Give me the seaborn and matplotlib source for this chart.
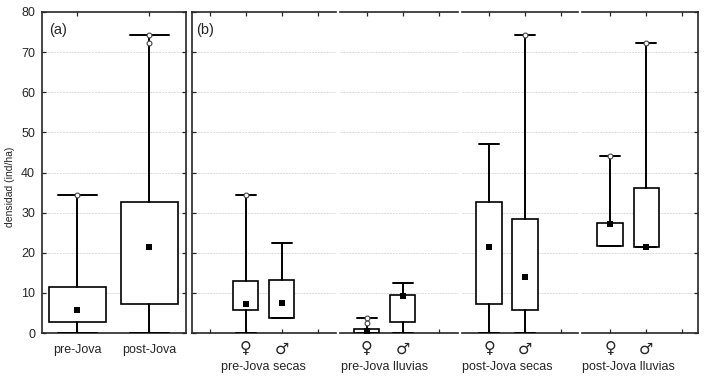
import numpy as np
import matplotlib
matplotlib.use("Agg")
import matplotlib.pyplot as plt
import matplotlib.transforms as mtransforms
import pandas as pd
import seaborn as sns

# --- data (densidad, ind/ha) ---
groups_a = ['pre-Jova', 'post-Jova']
a_min = [0.0, 0.0]
a_q1 = [2.8, 7.2]
a_med = [5.8, 21.5]
a_q3 = [11.4, 32.6]
a_max = [34.4, 74.2]
a_out = [[34.4], [74.2, 72.3]]

seasons = ['pre-Jova secas', 'pre-Jova lluvias', 'post-Jova secas', 'post-Jova lluvias']
sexes = ['\u2640', '\u2642']
b_min = [[0.0, 3.65], [0.0, 0.0], [0.0, 0.0], [21.8, 21.5]]
b_q1 = [[5.65, 3.65], [0.0, 2.8], [7.2, 5.65], [21.8, 21.5]]
b_med = [[7.15, 7.4], [0.5, 9.3], [21.5, 14.0], [27.2, 21.5]]
b_q3 = [[12.9, 13.2], [0.9, 9.5], [32.6, 28.5], [27.3, 36.2]]
b_max = [[34.5, 22.5], [3.8, 12.5], [47.0, 74.3], [44.1, 72.2]]
b_out = [[[34.5], []], [[3.8, 2.6], []], [[], [74.3]], [[44.1], [72.2]]]

sns.set_style("ticks")
plt.rcParams['font.family'] = ['Liberation Sans', 'DejaVu Sans']
plt.rcParams['font.size'] = 9

W, H = 707, 382
fig = plt.figure(figsize=(W / 100, H / 100), dpi=100)

y_bot, y_top = 333, 12


def add_ax(x0, x1):
    return fig.add_axes([x0 / W, (H - y_bot) / H, (x1 - x0) / W, (y_bot - y_top) / H])


line_kw = dict(color='black', linewidth=1.4)


def draw_boxes(ax, mins, q1s, meds, q3s, maxs, outs, width, capw):
    stats = []
    for i in range(len(mins)):
        stats.append(dict(whislo=mins[i], q1=q1s[i], med=meds[i], q3=q3s[i],
                          whishi=maxs[i], fliers=[]))
    ax.bxp(stats, positions=list(range(len(mins))), widths=width, capwidths=capw,
           showfliers=False, patch_artist=True,
           boxprops=dict(facecolor='white', edgecolor='black', linewidth=1.2),
           whiskerprops=line_kw, capprops=line_kw,
           medianprops=dict(linewidth=0), manage_ticks=False, zorder=3)
    med_df = pd.DataFrame({'x': list(range(len(meds))), 'y': meds})
    sns.scatterplot(data=med_df, x='x', y='y', marker='s', s=18, color='black',
                    edgecolor='black', linewidth=0, ax=ax, zorder=5)
    ox, oy = [], []
    for i, vals in enumerate(outs):
        for v in vals:
            ox.append(i)
            oy.append(v)
    if ox:
        out_df = pd.DataFrame({'x': ox, 'y': oy})
        sns.scatterplot(data=out_df, x='x', y='y', marker='o', s=12, color='white',
                        edgecolor='#444444', linewidth=0.8, ax=ax, zorder=6)
    ax.set_xlabel('')
    ax.set_ylabel('')


def style_ax(ax, left, right):
    ax.set_ylim(0, 80)
    ax.set_yticks(range(0, 81, 10))
    for yv in range(10, 80, 10):
        ax.axhline(yv, color='#dadada', linewidth=0.7, linestyle=(0, (2, 1)), zorder=0)
    for s in ['top', 'bottom']:
        ax.spines[s].set_linewidth(1.2)
    ax.spines['left'].set_visible(left)
    ax.spines['right'].set_visible(right)
    ax.spines['left'].set_linewidth(1.2)
    ax.spines['right'].set_linewidth(1.2)
    ax.tick_params(axis='both', direction='in', length=3, width=0.9,
                   top=True, bottom=True, left=left, right=right,
                   labelleft=False, labelright=False, labelsize=9, pad=8)


# panel (a)
ax_a = add_ax(42, 186)
draw_boxes(ax_a, a_min, a_q1, a_med, a_q3, a_max, a_out, 0.79, 0.54)
style_ax(ax_a, True, True)
ax_a.set_xlim(-0.49, 1.51)
ax_a.set_xticks([0, 1])
ax_a.set_xticklabels(groups_a)
ax_a.tick_params(axis='y', labelleft=True, labelsize=9, pad=5)
ax_a.set_ylabel('densidad (ind/ha)', fontsize=7.5)
ax_a.yaxis.set_label_coords(15 / W, (H - 187) / H, transform=fig.transFigure)
ax_a.text(0.05, 0.965, '(a)', transform=ax_a.transAxes, fontsize=10.5, va='top', ha='left')

# panel (b)
sub_px = [(192, 336), (340, 458), (462, 578), (582, 698)]
sub_xlim = [(-1.49, 2.51), (-0.74, 2.54), (-0.75, 2.47), (-0.78, 2.44)]
for k, season in enumerate(seasons):
    ax = add_ax(*sub_px[k])
    draw_boxes(ax, b_min[k], b_q1[k], b_med[k], b_q3[k], b_max[k], b_out[k], 0.70, 0.56)
    style_ax(ax, k == 0, k == len(seasons) - 1)
    ax.set_xlim(*sub_xlim[k])
    if k == 0:
        ax.set_xticks([-1, 0, 1, 2])
        ax.set_xticklabels([''] + sexes + [''])
    else:
        ax.set_xticks([0, 1, 2])
        ax.set_xticklabels(sexes + [''])
    for lab in ax.get_xticklabels():
        lab.set_fontfamily('DejaVu Sans')
        lab.set_fontsize(11.5)
    ax.tick_params(axis='x', pad=6)
    trans = mtransforms.blended_transform_factory(ax.transData, fig.transFigure)
    ax.text(0.5, (H - 367) / H, season, transform=trans, ha='center', va='center',
            fontsize=9)
    if k == 0:
        ax.text(0.03, 0.965, '(b)', transform=ax.transAxes, fontsize=10.5,
                va='top', ha='left')

fig.savefig('out.png', dpi=100)
